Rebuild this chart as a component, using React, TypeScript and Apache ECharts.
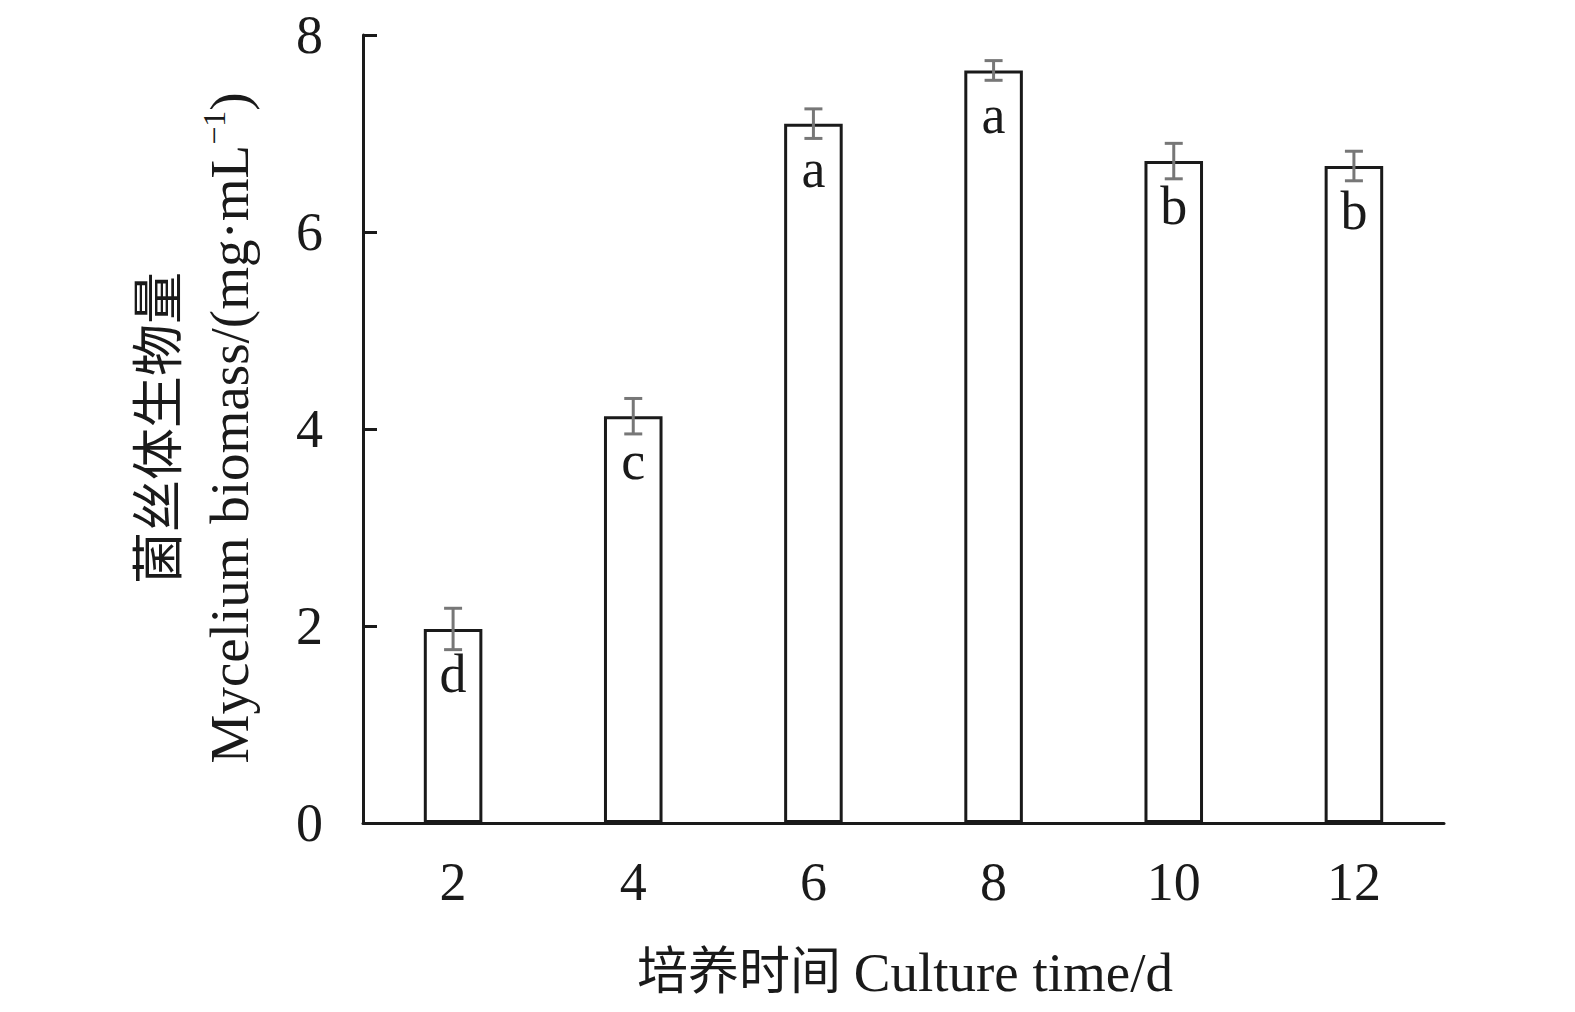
import React, { useEffect, useRef } from "react";
import * as echarts from "echarts";

const categories = ["2", "4", "6", "8", "10", "12"];
const biomass = [1.97, 4.13, 7.1, 7.64, 6.72, 6.67];
const errors = [0.21, 0.18, 0.15, 0.1, 0.18, 0.15];
const letters = ["d", "c", "a", "a", "b", "b"];
const yTicks = [0, 2, 4, 6, 8];

const FONT = "'Liberation Serif', 'Times New Roman', 'Noto Sans CJK SC', serif";
const INK = "#1a1a1a";

export default function App() {
  const ref = useRef<HTMLDivElement>(null);
  useEffect(() => {
    if (!ref.current) return;
    const chart = echarts.init(ref.current, undefined, { renderer: "svg" });
    chart.setOption({
      animation: false,
      backgroundColor: "#ffffff",
      grid: { left: 363, right: 131, top: 35, bottom: 189, containLabel: false },
      xAxis: {
        type: "category",
        data: categories,
        axisLine: { lineStyle: { color: INK, width: 3 } },
        axisTick: { show: false },
        axisLabel: { fontFamily: FONT, fontSize: 54, color: INK, margin: 32 },
      },
      yAxis: {
        type: "value",
        min: yTicks[0],
        max: yTicks[yTicks.length - 1],
        interval: 2,
        splitLine: { show: false },
        axisLine: { show: true, lineStyle: { color: INK, width: 3 } },
        axisTick: { show: true, inside: true, length: 14, lineStyle: { color: INK, width: 3 } },
        axisLabel: { fontFamily: FONT, fontSize: 54, color: INK, margin: 40 },
      },
      graphic: [
        {
          type: "text",
          x: 905,
          y: 972,
          style: {
            text: "{c|培养时间 }{n|Culture time/d}",
            align: "center",
            verticalAlign: "middle",
            rich: {
              c: { fontFamily: FONT, fontSize: 51, fill: INK, color: INK },
              n: { fontFamily: FONT, fontSize: 55, fill: INK, color: INK },
            },
          },
        },
        {
          type: "text",
          x: 159,
          y: 428,
          rotation: Math.PI / 2,
          style: {
            text: "菌丝体生物量",
            fontFamily: FONT,
            fontSize: 52,
            fill: INK,
            align: "center",
            verticalAlign: "middle",
          },
        },
        {
          type: "text",
          x: 229,
          y: 428,
          rotation: Math.PI / 2,
          style: {
            text: "{n|Mycelium biomass/(mg·mL}{s|−1}{n|)}",
            align: "center",
            verticalAlign: "middle",
            rich: {
              n: { fontFamily: FONT, fontSize: 55, fill: INK, color: INK },
              s: { fontFamily: FONT, fontSize: 32, fill: INK, color: INK, verticalAlign: "top", padding: [0, 0, 30, 0] },
            },
          },
        },
      ],
      series: [
        {
          type: "bar",
          barWidth: "32.5%",
          data: biomass.map((v, i) => ({ value: v, label: { formatter: letters[i] } })),
          itemStyle: { color: "#ffffff", borderColor: INK, borderWidth: 3 },
          label: {
            show: true,
            position: "insideTop",
            distance: 18,
            fontFamily: FONT,
            fontSize: 54,
            color: INK,
          },
          z: 2,
        },
        {
          type: "custom",
          z: 5,
          data: biomass.map((v, i) => [i, v, errors[i]]),
          renderItem: (params: any, api: any) => {
            const x = api.value(0);
            const v = api.value(1);
            const e = api.value(2);
            const top = api.coord([x, v + e]);
            const bot = api.coord([x, v - e]);
            const hw = 9;
            const style = { stroke: "#777777", lineWidth: 3 };
            return {
              type: "group",
              children: [
                { type: "line", shape: { x1: top[0], y1: top[1], x2: bot[0], y2: bot[1] }, style },
                { type: "line", shape: { x1: top[0] - hw, y1: top[1], x2: top[0] + hw, y2: top[1] }, style },
                { type: "line", shape: { x1: bot[0] - hw, y1: bot[1], x2: bot[0] + hw, y2: bot[1] }, style },
              ],
            };
          },
        },
      ],
    });
    return () => chart.dispose();
  }, []);
  return (
    <div
      ref={ref}
      style={{ position: "fixed", left: 0, top: 0, width: 1575, height: 1012, background: "#fff" }}
    />
  );
}
